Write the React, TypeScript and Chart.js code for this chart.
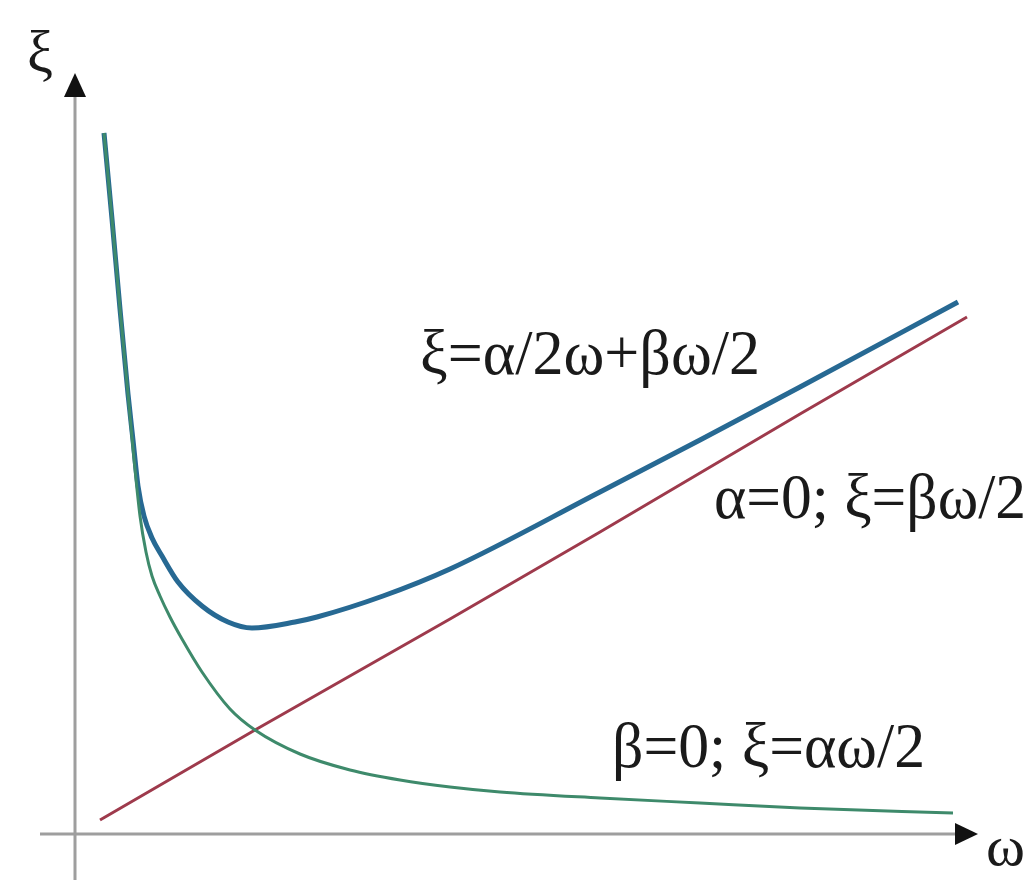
import React, { useEffect, useRef } from "react";
import { Chart, registerables } from "chart.js";

Chart.register(...registerables);

// ω positions and ξ values (axis units: 1 = 100 px)
const greenOmega = [0.29, 0.37, 0.45, 0.53, 0.59, 0.65, 0.71, 0.77, 0.85, 0.95, 1.07, 1.27, 1.55, 1.8, 2.25, 2.75, 3.25, 3.75, 4.25, 5.25, 6.25, 7.25, 8.78];
const greenXi = [7.01, 6.15, 5.25, 4.4, 3.75, 3.18, 2.82, 2.58, 2.38, 2.17, 1.95, 1.62, 1.25, 1.04, 0.8, 0.64, 0.54, 0.47, 0.42, 0.36, 0.31, 0.26, 0.21];

const blueOmega = [0.29, 0.37, 0.45, 0.53, 0.58, 0.63, 0.69, 0.77, 0.87, 1.03, 1.27, 1.53, 1.77, 2.2, 2.42, 3.08, 3.75, 5.25, 6.25, 7.25, 8.83];
const blueXi = [7.01, 6.15, 5.25, 4.4, 3.94, 3.48, 3.18, 2.96, 2.78, 2.52, 2.28, 2.12, 2.06, 2.12, 2.17, 2.38, 2.65, 3.42, 3.94, 4.47, 5.32];

const redOmega = [0.25, 1.8, 3.75, 5.25, 7.25, 8.92];
const redXi = [0.14, 1.04, 2.15, 3.02, 4.2, 5.17];

const xAxisTitle = "ω";
const yAxisTitle = "ξ";
const curveLabels = ["ξ=α/2ω+βω/2", "α=0; ξ=βω/2", "β=0; ξ=αω/2"];

const SERIF = '"Liberation Serif", "Times New Roman", "DejaVu Serif", serif';

function pts(xs: number[], ys: number[]) {
  return xs.map((x, i) => ({ x, y: ys[i] }));
}

export default function App() {
  const ref = useRef<HTMLCanvasElement | null>(null);

  useEffect(() => {
    const canvas = ref.current;
    if (!canvas) return;

    const axesPlugin = {
      id: "axesArrows",
      beforeDatasetsDraw(chart: any) {
        const ctx = chart.ctx;
        const xs = chart.scales.x;
        const ys = chart.scales.y;
        const x0 = xs.getPixelForValue(0);
        const y0 = ys.getPixelForValue(0);
        ctx.save();
        ctx.strokeStyle = "#9e9e9e";
        ctx.lineWidth = 3;
        ctx.beginPath();
        ctx.moveTo(xs.getPixelForValue(-0.35), y0);
        ctx.lineTo(xs.getPixelForValue(8.8), y0);
        ctx.stroke();
        ctx.beginPath();
        ctx.moveTo(x0, ys.getPixelForValue(-0.46));
        ctx.lineTo(x0, ys.getPixelForValue(7.37));
        ctx.stroke();
        ctx.fillStyle = "#111";
        const xt = xs.getPixelForValue(9.03);
        const xb = xs.getPixelForValue(8.8);
        ctx.beginPath();
        ctx.moveTo(xt, y0);
        ctx.lineTo(xb, y0 - 11);
        ctx.lineTo(xb, y0 + 11);
        ctx.closePath();
        ctx.fill();
        const yt = ys.getPixelForValue(7.61);
        const yb = ys.getPixelForValue(7.37);
        ctx.beginPath();
        ctx.moveTo(x0, yt);
        ctx.lineTo(x0 - 11, yb);
        ctx.lineTo(x0 + 11, yb);
        ctx.closePath();
        ctx.fill();
        ctx.restore();
      },
      afterDatasetsDraw(chart: any) {
        const ctx = chart.ctx;
        const xs = chart.scales.x;
        const ys = chart.scales.y;
        const drawFit = (text: string, w0: number, xi: number, width: number, size: number) => {
          const px = xs.getPixelForValue(w0);
          const py = ys.getPixelForValue(xi);
          ctx.save();
          ctx.font = `${size}px ${SERIF}`;
          ctx.fillStyle = "#1a1a1a";
          ctx.textBaseline = "alphabetic";
          ctx.textAlign = "left";
          const m = ctx.measureText(text).width;
          const s = width > 0 ? width / m : 1;
          ctx.translate(px, py);
          ctx.scale(s, 1);
          ctx.fillText(text, 0, 0);
          ctx.restore();
        };
        drawFit(curveLabels[0], 3.45, 4.6, 340, 64);
        drawFit(curveLabels[1], 6.39, 3.16, 312, 64);
        drawFit(curveLabels[2], 5.37, 0.67, 313, 64);
        drawFit(yAxisTitle, -0.48, 7.62, 26, 60);
        drawFit(xAxisTitle, 9.11, -0.31, 39, 56);
      },
    };

    const chart = new Chart(canvas, {
      type: "scatter",
      data: {
        datasets: [
          { label: "β=0", data: pts(greenOmega, greenXi), showLine: true, borderColor: "#3e8a6b", borderWidth: 3, pointRadius: 0, cubicInterpolationMode: "monotone" },
          { label: "sum", data: pts(blueOmega, blueXi), showLine: true, borderColor: "#276993", borderWidth: 5, pointRadius: 0, cubicInterpolationMode: "monotone" },
          { label: "α=0", data: pts(redOmega, redXi), showLine: true, borderColor: "#9e3a4c", borderWidth: 3, pointRadius: 0 },
        ],
      },
      options: {
        animation: false,
        responsive: false,
        maintainAspectRatio: false,
        layout: { padding: 0 },
        plugins: { legend: { display: false }, tooltip: { enabled: false } },
        scales: {
          x: { type: "linear", min: -0.75, max: 9.55, display: false },
          y: { type: "linear", min: -0.54, max: 8.34, display: false },
        },
      },
      plugins: [axesPlugin],
    } as any);

    let alive = true;
    const fonts: any = (document as any).fonts;
    if (fonts && fonts.load) {
      Promise.all([
        fonts.load('64px "Liberation Serif"', "ξ=α/2ω+βω/2 0;"),
        fonts.load('60px "Liberation Serif"', "ξω"),
      ])
        .then(() => {
          if (alive) chart.draw();
        })
        .catch(() => {});
      if (fonts.ready) fonts.ready.then(() => { if (alive) chart.draw(); });
    }

    return () => {
      alive = false;
      chart.destroy();
    };
  }, []);

  return (
    <div style={{ position: "fixed", left: 0, top: 0, width: 1030, height: 888, background: "#fff" }}>
      <canvas ref={ref} width={1030} height={888} style={{ display: "block", width: 1030, height: 888 }} />
    </div>
  );
}
